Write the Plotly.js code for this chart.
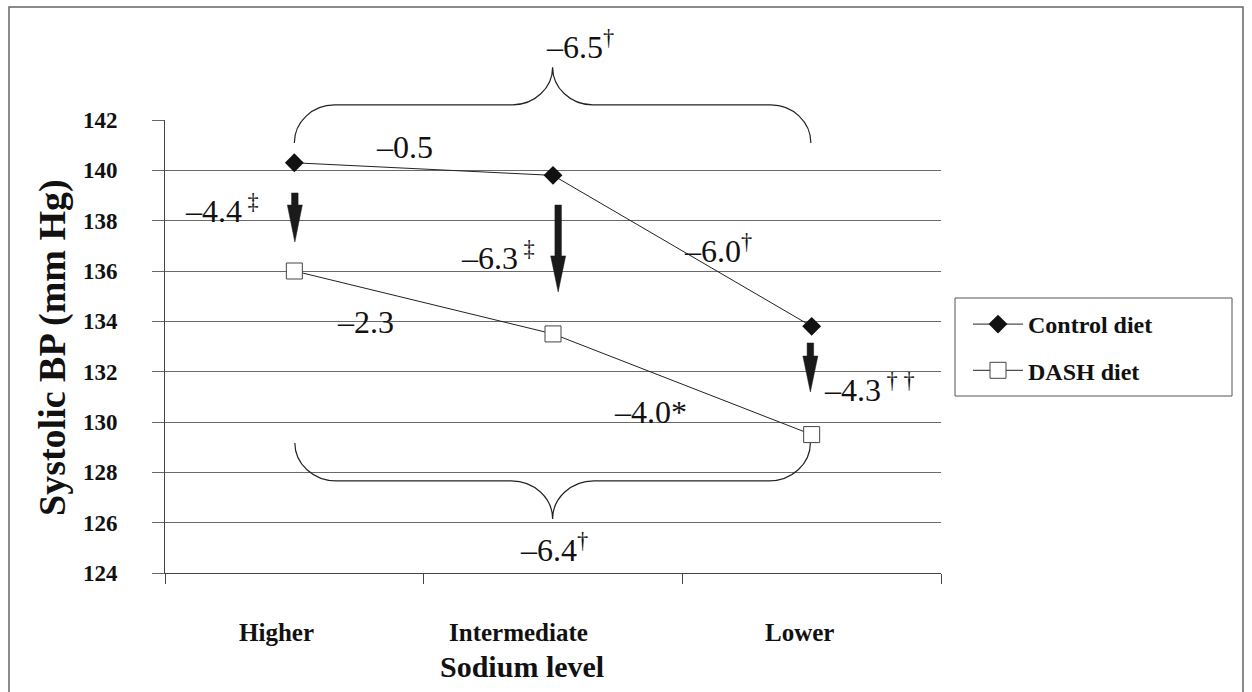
<!DOCTYPE html>
<html>
<head>
<meta charset="utf-8">
<script src="https://cdn.plot.ly/plotly-3.0.1.min.js"></script>
<style>html,body{margin:0;padding:0;background:#fff;}#chart{width:1252px;height:692px;}</style>
</head>
<body>
<div id="chart"></div>
<script>
// ---- data ----
const categories = ['Higher', 'Intermediate', 'Lower'];
const controlBP = [140.3, 139.8, 133.8];
const dashBP = [136.0, 133.5, 129.5];
const yTickVals = [124, 126, 128, 130, 132, 134, 136, 138, 140, 142];
const changeTexts = ['–0.5', '–4.4<sup> ‡</sup>', '–6.3<sup> ‡</sup>', '–6.0<sup>†</sup>', '–2.3',
                     '–4.3<sup> † †</sup>', '–4.0*', '–6.5<sup>†</sup>', '–6.4<sup>†</sup>'];

// ---- layout constants (positions / styles) ----
const labelX = [0.3077, -0.4315, 0.6366, 1.4996, 0.1567, 2.041, 1.2287, 0.9656, 0.8649];
const labelY = [140.93, 138.46, 136.6, 136.87, 133.97, 131.35, 130.40, 144.98, 124.98];
const catShift = [-17.5, -35, -12.5];
const arrowX = [0.002, 1.02, 1.995];
const arrowTop = [139.10, 138.62, 133.14];
const arrowHead = [138.62, 136.60, 132.62];
const arrowTip = [137.15, 135.17, 131.19];

const serif = '"Liberation Serif", "Times New Roman", Times, serif';
const yMin = 124, yMax = 142;
const xIdx = categories.map((c, i) => i);
function yp(v) { return (v - yMin) / (yMax - yMin); }
function px2xp(px) { return (px - 165) / 776; }
function py2yp(py) { return (573 - py) / 453; }

function bracePath(x0, x1, yEnd, yBar, yTip, dx) {
  const k = 0.55, xm = (x0 + x1) / 2;
  const P = (x, y) => x + ',' + yp(y);
  return 'M' + P(x0, yEnd) +
    ' C' + P(x0, yEnd + k * (yBar - yEnd)) + ' ' + P(x0 + dx - k * dx, yBar) + ' ' + P(x0 + dx, yBar) +
    ' L' + P(xm - dx, yBar) +
    ' C' + P(xm - dx + k * dx, yBar) + ' ' + P(xm, yTip + k * (yBar - yTip)) + ' ' + P(xm, yTip) +
    ' C' + P(xm, yTip + k * (yBar - yTip)) + ' ' + P(xm + dx - k * dx, yBar) + ' ' + P(xm + dx, yBar) +
    ' L' + P(x1 - dx, yBar) +
    ' C' + P(x1 - dx + k * dx, yBar) + ' ' + P(x1, yEnd + k * (yBar - yEnd)) + ' ' + P(x1, yEnd);
}
function arrowPath(xc, yTop, yHead, yTip) {
  const s = 0.0126, h = 0.029;
  return 'M' + (xc - s) + ',' + yTop + ' L' + (xc + s) + ',' + yTop + ' L' + (xc + s) + ',' + yHead +
    ' L' + (xc + h) + ',' + yHead + ' L' + xc + ',' + yTip + ' L' + (xc - h) + ',' + yHead +
    ' L' + (xc - s) + ',' + yHead + ' Z';
}

const traces = [
  {
    x: xIdx, y: controlBP, name: 'Control diet', type: 'scatter', mode: 'lines+markers',
    legendgroup: 'c',
    line: {color: '#222', width: 1},
    marker: {symbol: 'diamond', size: 14.5, color: '#111', line: {color: '#111', width: 0}}
  },
  {
    x: xIdx, y: dashBP, name: 'DASH diet', type: 'scatter', mode: 'lines+markers',
    legendgroup: 'd',
    line: {color: '#222', width: 1},
    marker: {symbol: 'square', size: 16, color: '#fff', line: {color: '#444', width: 1}}
  }
];

const shapes = [];
// outer frame
shapes.push({type: 'rect', xref: 'paper', yref: 'paper', x0: px2xp(9), x1: px2xp(1243), y0: py2yp(720), y1: py2yp(7),
  line: {color: '#666', width: 1.5}, fillcolor: 'rgba(0,0,0,0)', layer: 'below'});
// legend frame
shapes.push({type: 'rect', xref: 'paper', yref: 'paper', x0: px2xp(955), x1: px2xp(1232), y0: py2yp(396), y1: py2yp(298),
  line: {color: '#555', width: 1}, fillcolor: 'rgba(0,0,0,0)'});
// braces
shapes.push({type: 'path', xref: 'x', yref: 'paper', path: bracePath(0, 1.997, 141.09, 142.6, 144.1, 0.155),
  line: {color: '#222', width: 1.2}});
shapes.push({type: 'path', xref: 'x', yref: 'paper', path: bracePath(0.002, 1.995, 129.17, 127.66, 126.15, 0.16),
  line: {color: '#222', width: 1.2}});
// arrows
for (let i = 0; i < arrowX.length; i++) {
  shapes.push({type: 'path', xref: 'x', yref: 'y', path: arrowPath(arrowX[i], arrowTop[i], arrowHead[i], arrowTip[i]),
    line: {color: '#1a1a1a', width: 0.5}, fillcolor: '#1a1a1a'});
}

const annotations = [];
changeTexts.forEach((t, i) => {
  annotations.push({text: t, xref: 'x', yref: 'paper', x: labelX[i], y: yp(labelY[i]), xanchor: 'left', yanchor: 'middle',
    showarrow: false, font: {family: serif, size: 32, color: '#111', weight: 'normal'}});
});
categories.forEach((c, i) => {
  annotations.push({text: c, xref: 'x', yref: 'paper', x: xIdx[i], xshift: catShift[i], y: py2yp(632),
    xanchor: 'center', yanchor: 'middle', showarrow: false, font: {family: serif, size: 25, color: '#111', weight: 'bold'}});
});
annotations.push({text: 'Sodium level', xref: 'paper', yref: 'paper', x: px2xp(522), y: py2yp(666),
  xanchor: 'center', yanchor: 'middle', showarrow: false, font: {family: serif, size: 30, color: '#111', weight: 'bold'}});
annotations.push({text: 'Systolic BP (mm Hg)', xref: 'paper', yref: 'paper', x: px2xp(52), y: py2yp(347),
  xanchor: 'center', yanchor: 'middle', textangle: -90, showarrow: false, font: {family: serif, size: 38, color: '#111', weight: 'bold'}});

const layout = {
  width: 1252, height: 692,
  margin: {l: 165, r: 311, t: 120, b: 119},
  paper_bgcolor: '#fff', plot_bgcolor: '#fff',
  font: {family: serif, color: '#111'},
  showlegend: true,
  xaxis: {
    type: 'linear', range: [-0.5, 2.5], tickvals: [-0.5, 0.5, 1.5, 2.5], showticklabels: false,
    ticks: 'outside', ticklen: 10, tickcolor: '#444', tickwidth: 1,
    showline: true, linecolor: '#444', linewidth: 1, showgrid: false, zeroline: false, fixedrange: true
  },
  yaxis: {
    range: [yMin, yMax], tickvals: yTickVals, ticktext: yTickVals.map(String),
    ticks: 'outside', ticklen: 12, tickcolor: '#666', tickwidth: 1, ticklabelstandoff: 30,
    showline: true, linecolor: '#444', linewidth: 1,
    showgrid: true, gridcolor: '#6a6a6a', gridwidth: 1, zeroline: false, fixedrange: true,
    tickfont: {family: serif, size: 23, color: '#111', weight: 'bold'}
  },
  legend: {
    x: px2xp(968), y: py2yp(302), xanchor: 'left', yanchor: 'top',
    bgcolor: 'rgba(0,0,0,0)', borderwidth: 0, traceorder: 'grouped', tracegroupgap: 12, itemwidth: 50,
    font: {family: serif, size: 24, color: '#111', weight: 'bold'}
  },
  shapes: shapes,
  annotations: annotations
};

Plotly.newPlot('chart', traces, layout, {displayModeBar: false, staticPlot: true});
</script>
</body>
</html>
